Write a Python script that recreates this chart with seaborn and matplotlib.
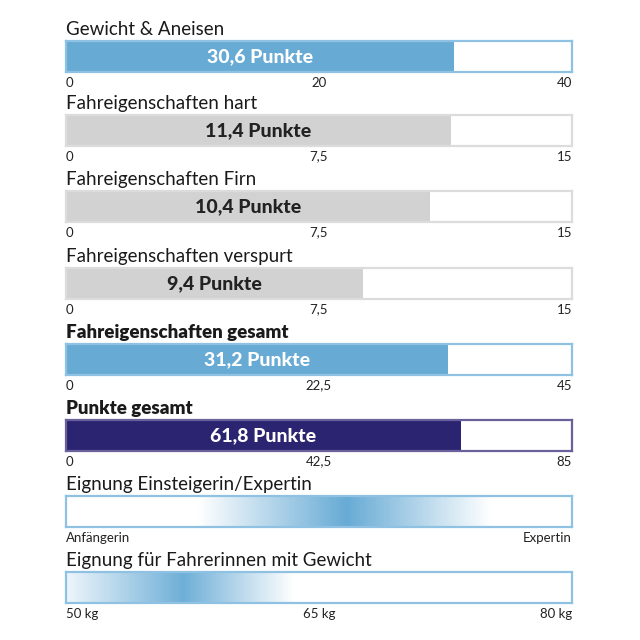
import numpy as np
import pandas as pd
import matplotlib
matplotlib.use("Agg")
import matplotlib.pyplot as plt
import seaborn as sns
from matplotlib.colors import LinearSegmentedColormap

# DATA
titles = ["Gewicht & Aneisen", "Fahreigenschaften hart", "Fahreigenschaften Firn",
          "Fahreigenschaften verspurt", "Fahreigenschaften gesamt", "Punkte gesamt"]
scores = [30.6, 11.4, 10.4, 9.4, 31.2, 61.8]
# drawn bar lengths
bar_lengths = [30.7, 11.4, 10.8, 8.8, 34.0, 66.3]
max_points = [40, 15, 15, 15, 45, 85]
mid_points = [20, 7.5, 7.5, 7.5, 22.5, 42.5]
tick_labels = [["0", "20", "40"], ["0", "7,5", "15"], ["0", "7,5", "15"],
               ["0", "7,5", "15"], ["0", "22,5", "45"], ["0", "42,5", "85"]]
bar_kind = ["blue", "gray", "gray", "gray", "blue", "navy"]
bold_title = [False, False, False, False, True, True]

level_title = "Eignung Einsteigerin/Expertin"
level_ticks = [0, 1]
level_labels = ["Anfängerin", "Expertin"]
level_stops = [0.0, 0.26, 0.555, 0.84, 1.0]
level_intensity = [0.0, 0.0, 1.0, 0.0, 0.0]

weight_title = "Eignung für Fahrerinnen mit Gewicht"
weight_ticks = [50, 65, 80]
weight_labels = ["50 kg", "65 kg", "80 kg"]
weight_stops = [50, 56.9, 63.5, 80]
weight_intensity = [0.12, 0.95, 0.0, 0.0]

# STYLES
fill_colors = {"blue": "#67abd5", "gray": "#d2d2d2", "navy": "#2b2470"}
edge_colors = {"blue": "#8fc2e2", "gray": "#dcdcdc", "navy": "#6a609c"}
text_colors = {"blue": "white", "gray": "#222222", "navy": "white"}

sns.set_theme(style="white")
plt.rcParams["font.family"] = ["Lato", "DejaVu Sans"]

fig = plt.figure(figsize=(6.4, 6.4), dpi=100)
bar_tops = [41, 115, 191, 268, 344, 420, 496, 572]
left_px, width_px, height_px = 66, 506, 31


def make_axes(top):
    return fig.add_axes([left_px / 640, 1 - (top + height_px) / 640,
                         width_px / 640, height_px / 640])


def style_axes(ax, title, bold, edge, ticks, labels):
    for s in ax.spines.values():
        s.set_visible(True)
        s.set_color(edge)
        s.set_linewidth(1.6)
    ax.set_yticks([])
    ax.set_ylabel("")
    ax.set_xlabel("")
    ax.set_xticks(ticks)
    ax.set_xticklabels(labels)
    ax.tick_params(axis="x", length=0, pad=10.5, labelsize=9.5, labelcolor="#222222")
    tl = ax.get_xticklabels()
    for t in tl:
        t.set_va("baseline")
    tl[0].set_ha("left")
    tl[-1].set_ha("right")
    ax.annotate(title, xy=(0, 1), xycoords="axes fraction", xytext=(0, 4),
                textcoords="offset points", va="baseline", ha="left",
                fontsize=13.5, color="#1a1a1a",
                fontweight="heavy" if bold else "normal")


df = pd.DataFrame({"title": titles, "score": scores, "length": bar_lengths,
                   "max": max_points, "mid": mid_points, "kind": bar_kind})

for i, row in df.iterrows():
    ax = make_axes(bar_tops[i])
    sns.barplot(x=[row["length"]], y=[row["title"]], orient="h", ax=ax,
                color=fill_colors[row["kind"]], saturation=1, width=1,
                edgecolor="none")
    ax.set_xlim(0, row["max"])
    ax.set_ylim(0.5, -0.5)
    label = f"{row['score']:.1f} Punkte".replace(".", ",")
    ax.text(row["length"] / 2, 0, label, ha="center", va="center",
            fontsize=14, fontweight="black", color=text_colors[row["kind"]])
    style_axes(ax, row["title"], bold_title[i], edge_colors[row["kind"]],
               [0, row["mid"], row["max"]], tick_labels[i])


def gradient_cmap(stops, intensity):
    lo, hi = stops[0], stops[-1]
    white = np.array([1.0, 1.0, 1.0])
    blue = np.array(matplotlib.colors.to_rgb(fill_colors["blue"]))
    pts = [((s - lo) / (hi - lo), tuple(white + (blue - white) * a))
           for s, a in zip(stops, intensity)]
    return LinearSegmentedColormap.from_list("grad", pts)


for top, title, stops, intensity, ticks, labels in [
        (bar_tops[6], level_title, level_stops, level_intensity, level_ticks, level_labels),
        (bar_tops[7], weight_title, weight_stops, weight_intensity, weight_ticks, weight_labels)]:
    ax = make_axes(top)
    cmap = gradient_cmap(stops, intensity)
    ax.imshow(np.linspace(0, 1, 600)[None, :], cmap=cmap, vmin=0, vmax=1,
              aspect="auto", extent=(stops[0], stops[-1], 0, 1))
    ax.set_xlim(stops[0], stops[-1])
    ax.set_ylim(0, 1)
    style_axes(ax, title, False, edge_colors["blue"], ticks, labels)

fig.savefig("out.png", dpi=100, facecolor="white")
